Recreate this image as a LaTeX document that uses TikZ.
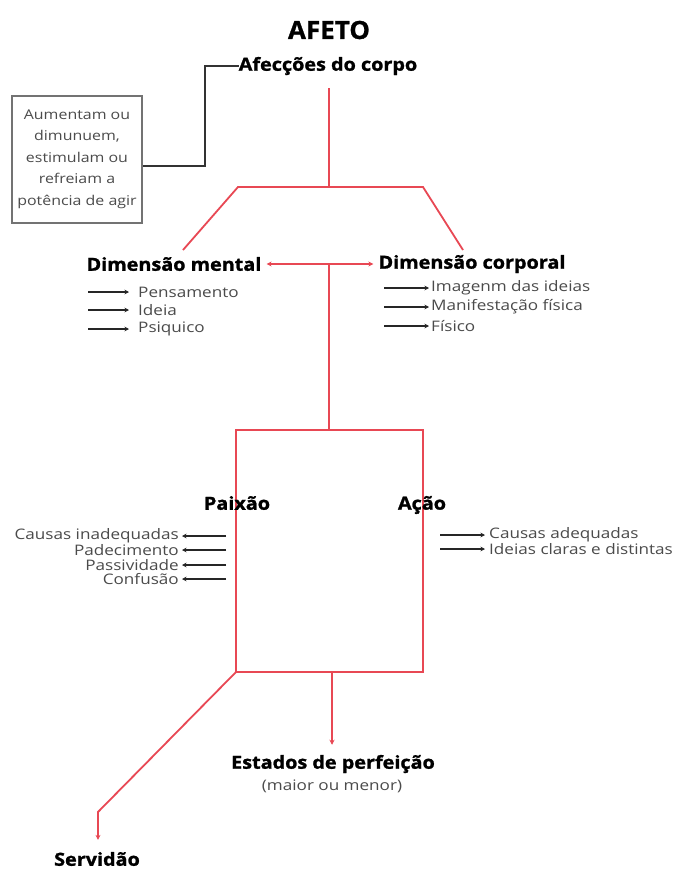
\documentclass[tikz,border=0pt]{standalone}
\usepackage{fontspec}
\setmainfont{Open Sans}
\newfontfamily\itemfont[FakeStretch=1.18]{Open Sans}
\newfontfamily\headfont[FakeStretch=1.1,FakeBold=1.3]{Open Sans}
\newfontfamily\titlefont[FakeStretch=1.04,FakeBold=1]{Open Sans}
\usetikzlibrary{arrows.meta}
\definecolor{redl}{RGB}{232,72,84}
\definecolor{txtg}{RGB}{75,75,75}
\begin{document}
\begin{tikzpicture}[x=1pt,y=-1pt,
 title/.style={font=\titlefont\bfseries\fontsize{25}{29}\selectfont, inner sep=0pt},
 head/.style={font=\headfont\bfseries\fontsize{18}{21}\selectfont, inner sep=0pt},
 item/.style={font=\itemfont\fontsize{14.5}{16}\selectfont, text=txtg, inner sep=0pt},
 sub/.style={font=\itemfont\fontsize{14.5}{16}\selectfont, text=txtg, inner sep=0pt},
 rline/.style={draw=redl, line width=1.8pt},
 rtip/.style={-{Stealth[length=5pt,width=5pt]}},
 barrow/.style={draw=black!85, line width=1.3pt, -{Stealth[length=4.5pt,width=4.5pt]}},
 gline/.style={draw=black!80, line width=2.5pt},
 gbox/.style={draw=black!55, line width=2pt, minimum width=130pt, minimum height=127pt, align=center, font=\itemfont\fontsize{13.5}{21.5}\selectfont, text=txtg, inner sep=0pt}
]
\useasboundingbox[fill=white] (0,0) rectangle (675,870);

% titles
\node[title] (afeto) at (329,30) {AFETO};
\node[head] (afec) at (328,66) {Afecções do corpo};

% grey box and black connector
\node[gbox] (box) at (77,159) {Aumentam ou\\dimunuem,\\estimulam ou\\refreiam a\\potência de agir};
\coordinate (k1) at (205,66);
\coordinate (k2) at (205,166);
\coordinate (k3) at (143,166);
\draw[gline] (afec.west) -- (k1) -- (k2) -- (k3);

% red upper structure
\coordinate (r0) at (329,88);
\coordinate (r1) at (329,187);
\coordinate (tl) at (238,187);
\coordinate (tr) at (423,187);
\coordinate (dl) at (183,250);
\coordinate (dr) at (463,250);
\draw[rline] (r0) -- (r1);
\draw[rline] (dl) -- (tl) -- (tr) -- (dr);

% dimensions
\node[head] (dm) at (174,264) {Dimensão mental};
\node[head] (dc) at (472,264) {Dimensão corporal};
\draw[rline,{Stealth[length=5pt,width=5pt]}-{Stealth[length=5pt,width=5pt]}] ([xshift=5pt]dm.east) -- ([xshift=-5pt]dc.west);
\coordinate (mid) at (329,263);
\coordinate (bt) at (329,430);
\draw[rline] (mid) -- (bt);

% left items
\node[item, anchor=west] (pens) at (138,292) {Pensamento};
\node[item, anchor=west] (ideia) at (138,310) {Ideia};
\node[item, anchor=west] (psi) at (138,329) {Psiquico};
\foreach \n in {pens,ideia,psi}
  \draw[barrow] ([xshift=-50pt]\n.west) -- ([xshift=-9pt]\n.west);

% right items
\node[item, anchor=west] (img) at (431,288) {Imagenm das ideias};
\node[item, anchor=west] (man) at (431,307) {Manifestação física};
\node[item, anchor=west] (fis) at (431,326) {Físico};
\foreach \n in {img,man,fis}
  \draw[barrow] ([xshift=-47pt]\n.west) -- ([xshift=-2pt]\n.west);

% rectangle
\coordinate (ptl) at (236,430);
\coordinate (pbr) at (423,672);
\draw[rline] (ptl) rectangle (pbr);

\node[head] (paixao) at (237,503) {Paixão};
\node[head] (acao) at (422,505) {Ação};

% paixao items
\node[item, anchor=east] (ci) at (179,536) {Causas inadequadas};
\node[item, anchor=east] (pad) at (179,550) {Padecimento};
\node[item, anchor=east] (pas) at (179,565) {Passividade};
\node[item, anchor=east] (conf) at (179,579) {Confusão};
\foreach \n in {ci,pad,pas,conf}
  \draw[barrow] ([xshift=47pt]\n.east) -- ([xshift=3pt]\n.east);

% acao items
\node[item, anchor=west] (ca) at (489,535) {Causas adequadas};
\node[item, anchor=west] (icd) at (489,549) {Ideias claras e distintas};
\foreach \n in {ca,icd}
  \draw[barrow] ([xshift=-49pt]\n.west) -- ([xshift=-4pt]\n.west);

% bottom
\node[head] (est) at (333,764) {Estados de perfeição};
\node[sub] (mm) at (332,786) {(maior ou menor)};
\coordinate (eb) at (332,672);
\draw[rline,rtip] (eb) -- ([yshift=10pt]eb |- est.north);

\coordinate (bl) at (236,672);
\coordinate (sv) at (98,812);
\node[head] (serv) at (97,859) {Servidão};
\draw[rline,rtip] (bl) -- (sv) -- ([yshift=12pt]sv |- serv.north);
\end{tikzpicture}
\end{document}
